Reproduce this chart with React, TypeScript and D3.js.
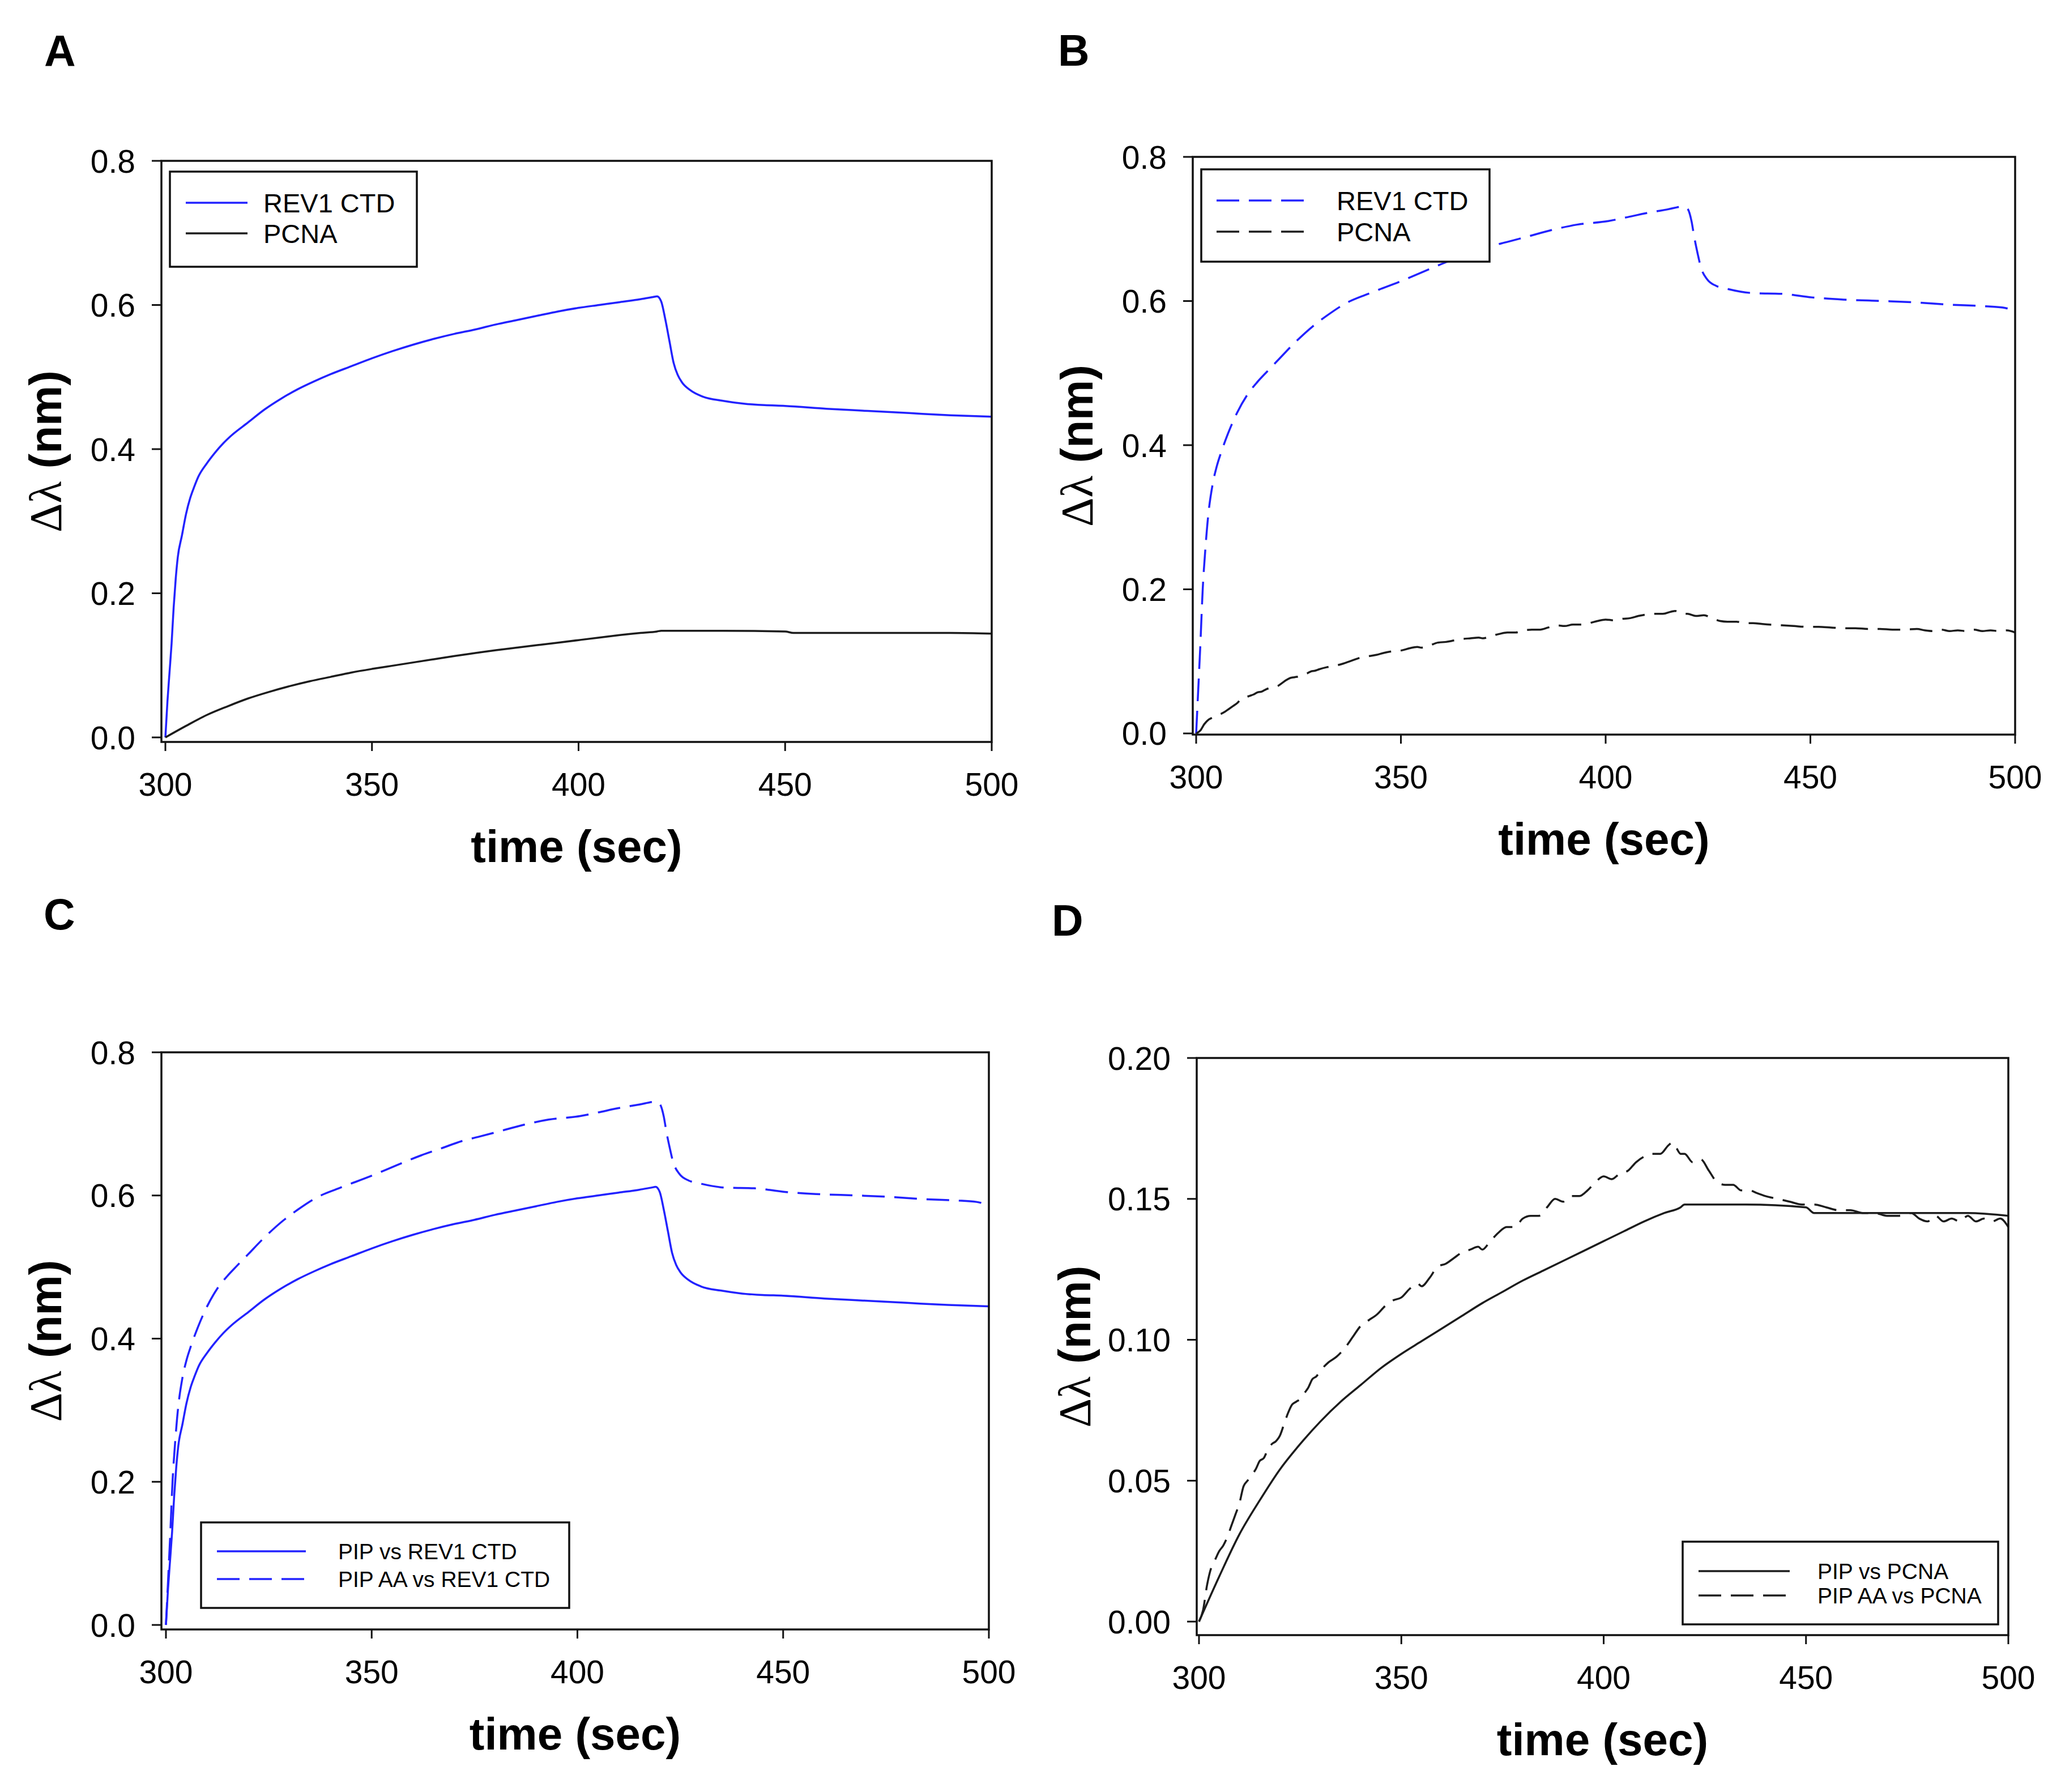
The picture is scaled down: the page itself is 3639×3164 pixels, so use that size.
import React from 'react';
import * as d3 from 'd3';

// ---------- tick labels ----------
const xTicks = [300, 350, 400, 450, 500];
const yTicksWide = [0, 0.2, 0.4, 0.6, 0.8];
const yTicksNarrow = [0, 0.05, 0.1, 0.15, 0.2];

// ---------- series: PIP vs REV1 CTD (A blue solid, C solid) ----------
const tPipRev1 = [300, 300.5, 301, 301.5, 302, 302.5, 303, 304, 305, 306, 307, 308, 310, 312, 314, 316, 320, 324, 328, 332, 336, 340, 345, 350, 355, 360, 365, 370, 375, 380, 385, 390, 395, 400, 405, 410, 415, 418, 419, 420, 421, 422, 423, 424, 425, 427, 430, 435, 440, 445, 450, 460, 470, 480, 490, 500];
const vPipRev1 = [0, 0.05, 0.09, 0.13, 0.18, 0.22, 0.25, 0.28, 0.31, 0.332, 0.348, 0.362, 0.38, 0.395, 0.408, 0.419, 0.437, 0.455, 0.47, 0.483, 0.494, 0.504, 0.515, 0.526, 0.536, 0.545, 0.553, 0.56, 0.566, 0.573, 0.579, 0.585, 0.591, 0.596, 0.6, 0.604, 0.608, 0.611, 0.612, 0.605, 0.58, 0.55, 0.52, 0.503, 0.493, 0.482, 0.473, 0.467, 0.463, 0.461, 0.46, 0.456, 0.453, 0.45, 0.447, 0.445];

// ---------- series: PIP AA vs REV1 CTD (B blue dashed, C dashed) ----------
const tPipAARev1 = [300, 300.5, 301, 301.6, 302.3, 302.9, 304, 305, 306.1, 307.7, 310, 312.5, 315, 317.3, 320, 323.7, 328.5, 332, 336.6, 342, 350.2, 356, 362, 367, 371.9, 376, 380, 387.9, 393, 400.7, 405, 410, 415, 419, 420, 421, 421.6, 422.5, 423.2, 424.8, 427, 429.6, 436, 443, 450.4, 458, 468, 476, 484, 492, 497, 500];
const vPipAARev1 = [0, 0.06, 0.12, 0.2, 0.26, 0.3, 0.345, 0.37, 0.39, 0.415, 0.445, 0.47, 0.488, 0.502, 0.518, 0.54, 0.565, 0.58, 0.597, 0.61, 0.628, 0.642, 0.656, 0.666, 0.676, 0.682, 0.688, 0.7, 0.706, 0.711, 0.716, 0.722, 0.727, 0.731, 0.728, 0.71, 0.69, 0.665, 0.648, 0.63, 0.621, 0.617, 0.611, 0.61, 0.605, 0.602, 0.6, 0.598, 0.595, 0.593, 0.591, 0.586];

// ---------- series: PIP vs PCNA (A black solid, D solid) ----------
const tPipPcna = [300, 305, 310, 315, 320, 325, 330, 335, 340, 345, 350, 355, 360, 365, 370, 375, 380, 385, 390, 395, 400, 405, 410, 415, 419, 420, 435, 450, 452, 475, 490, 500];
const vPipPcna = [0, 0.016, 0.031, 0.043, 0.054, 0.063, 0.071, 0.078, 0.084, 0.09, 0.095, 0.0995, 0.104, 0.1085, 0.113, 0.117, 0.121, 0.1245, 0.128, 0.1315, 0.135, 0.1385, 0.142, 0.145, 0.147, 0.148, 0.148, 0.147, 0.145, 0.145, 0.145, 0.144];

// ---------- series: PIP AA vs PCNA (B black dashed, D dashed) ----------
const tPipAAPcna = [300, 301, 302, 303, 304, 305, 306, 307, 308, 309, 310, 311, 312, 313, 314, 315, 316, 317, 318, 319, 320, 321, 322, 323, 324, 325, 326, 327, 328, 329, 330, 332, 334, 336, 338, 340, 342, 344, 346, 348, 350, 352, 354, 355, 357, 359, 361, 363, 365, 367, 369, 370, 372, 374, 376, 378, 380, 382, 384, 386, 388, 390, 392, 394, 396, 398, 400, 402, 404, 406, 408, 410, 412, 414, 416, 417, 418, 419, 420, 422, 424, 426, 428, 430, 432, 434, 436, 438, 440, 443, 446, 449, 452, 455, 458, 461, 464, 467, 470, 473, 476, 478, 480, 482, 484, 486, 488, 490, 492, 494, 496, 498, 500];
const vPipAAPcna = [0, 0.004, 0.013, 0.019, 0.022, 0.025, 0.027, 0.03, 0.034, 0.038, 0.042, 0.048, 0.05, 0.052, 0.054, 0.057, 0.058, 0.061, 0.063, 0.064, 0.066, 0.07, 0.074, 0.077, 0.078, 0.079, 0.081, 0.083, 0.086, 0.087, 0.089, 0.092, 0.094, 0.097, 0.101, 0.105, 0.107, 0.109, 0.112, 0.114, 0.115, 0.118, 0.12, 0.119, 0.122, 0.126, 0.127, 0.129, 0.131, 0.132, 0.133, 0.132, 0.135, 0.138, 0.14, 0.14, 0.143, 0.144, 0.144, 0.147, 0.15, 0.149, 0.151, 0.151, 0.153, 0.156, 0.158, 0.157, 0.159, 0.16, 0.163, 0.165, 0.166, 0.166, 0.169, 0.17, 0.168, 0.166, 0.166, 0.163, 0.164, 0.16, 0.156, 0.155, 0.155, 0.153, 0.153, 0.152, 0.151, 0.15, 0.149, 0.148, 0.148, 0.147, 0.146, 0.146, 0.145, 0.145, 0.144, 0.144, 0.145, 0.143, 0.142, 0.144, 0.142, 0.143, 0.142, 0.144, 0.142, 0.143, 0.142, 0.143, 0.14];

// ---------- legend labels ----------
const legendAB = ['REV1 CTD', 'PCNA'];
const legendC = ['PIP vs REV1 CTD', 'PIP AA vs REV1 CTD'];
const legendD = ['PIP vs PCNA', 'PIP AA vs PCNA'];

const BLUE = '#2222ff';
const BLACK = '#1c1c1c';
const DASH = '40 17';
const SANS = '"Liberation Sans", Arial, sans-serif';

type S = { t: number[]; v: number[]; color: string; dash?: string };

interface PanelProps {
  letter: string;
  letterPos: [number, number];
  box: [number, number, number, number];
  xDomain: [number, number];
  yDomain: [number, number];
  yTicks: number[];
  yFmt: string;
  yTitleOffset: number;
  series: S[];
  legendBox: [number, number, number, number];
  legendLineX: [number, number];
  legendRows: [number, number];
  legendTextX: number;
  legendFont: number;
  legendLabels: string[];
}

function Panel(p: PanelProps) {
  const [x0, y0, x1, y1] = p.box;
  const xs = d3.scaleLinear().domain(p.xDomain).range([x0, x1]);
  const ys = d3.scaleLinear().domain(p.yDomain).range([y1, y0]);
  const fmt = d3.format(p.yFmt);
  const line = d3
    .line<[number, number]>()
    .x((d) => xs(d[0]))
    .y((d) => ys(d[1]))
    .curve(d3.curveMonotoneX);
  const [lx0, ly0, lx1, ly1] = p.legendBox;
  const cy = (y0 + y1) / 2;
  const tx = x0 - p.yTitleOffset;
  return (
    <g>
      <text x={p.letterPos[0]} y={p.letterPos[1]} fontFamily={SANS} fontWeight="bold" fontSize={77} fill="#000">
        {p.letter}
      </text>
      {p.series.map((s, i) => (
        <path
          key={i}
          d={line(s.t.map((t, k) => [t, s.v[k]] as [number, number])) || ''}
          fill="none"
          stroke={s.color}
          strokeWidth={3.5}
          strokeDasharray={s.dash}
          strokeLinejoin="round"
        />
      ))}
      <rect x={x0} y={y0} width={x1 - x0} height={y1 - y0} fill="none" stroke="#111" strokeWidth={3.5} />
      {p.yTicks.map((t) => (
        <g key={'y' + t}>
          <line x1={x0 - 17} x2={x0} y1={ys(t)} y2={ys(t)} stroke="#111" strokeWidth={3} />
          <text x={x0 - 46} y={ys(t)} dy="0.36em" textAnchor="end" fontFamily={SANS} fontSize={57} fill="#000">
            {fmt(t)}
          </text>
        </g>
      ))}
      {xTicks.map((t) => (
        <g key={'x' + t}>
          <line x1={xs(t)} x2={xs(t)} y1={y1} y2={y1 + 16} stroke="#111" strokeWidth={3} />
          <text x={xs(t)} y={y1 + 95} textAnchor="middle" fontFamily={SANS} fontSize={57} fill="#000">
            {t}
          </text>
        </g>
      ))}
      <text x={(x0 + x1) / 2} y={y1 + 212} textAnchor="middle" fontFamily={SANS} fontWeight="bold" fontSize={80} fill="#000">
        time (sec)
      </text>
      <text transform={`translate(${tx},${cy}) rotate(-90)`} textAnchor="middle" fontSize={80} fill="#000">
        <tspan fontFamily='"Liberation Serif", "Times New Roman", serif'>{'\u0394\u03bb'}</tspan>
        <tspan fontFamily={SANS} fontWeight="bold">{' (nm)'}</tspan>
      </text>
      <rect x={lx0} y={ly0} width={lx1 - lx0} height={ly1 - ly0} fill="#fff" stroke="#111" strokeWidth={3.5} />
      {p.legendLabels.map((lab, i) => (
        <g key={lab}>
          <line
            x1={p.legendLineX[0]}
            x2={p.legendLineX[1]}
            y1={p.legendRows[i]}
            y2={p.legendRows[i]}
            stroke={p.series[i].color}
            strokeWidth={3.5}
            strokeDasharray={p.series[i].dash}
          />
          <text x={p.legendTextX} y={p.legendRows[i]} dy="0.36em" fontFamily={SANS} fontSize={p.legendFont} fill="#000">
            {lab}
          </text>
        </g>
      ))}
    </g>
  );
}

export default function App() {
  return (
    <svg
      width={3639}
      height={3164}
      viewBox="0 0 3639 3164"
      style={{ position: 'absolute', left: 0, top: 0, background: '#fff' }}
    >
      <rect x={0} y={0} width={3639} height={3164} fill="#fff" />
      <Panel
        letter="A"
        letterPos={[78, 117]}
        box={[285, 284, 1751, 1310]}
        xDomain={[299.04, 500]}
        yDomain={[-0.0063, 0.8]}
        yTicks={yTicksWide}
        yFmt=".1f"
        yTitleOffset={177}
        series={[
          { t: tPipRev1, v: vPipRev1, color: BLUE },
          { t: tPipPcna, v: vPipPcna, color: BLACK },
        ]}
        legendBox={[300, 303, 736, 471]}
        legendLineX={[328, 437]}
        legendRows={[358, 412]}
        legendTextX={465}
        legendFont={47}
        legendLabels={legendAB}
      />
      <Panel
        letter="B"
        letterPos={[1868, 116]}
        box={[2106, 277, 3558, 1297]}
        xDomain={[299.17, 500]}
        yDomain={[-0.0016, 0.8]}
        yTicks={yTicksWide}
        yFmt=".1f"
        yTitleOffset={177}
        series={[
          { t: tPipAARev1, v: vPipAARev1, color: BLUE, dash: DASH },
          { t: tPipAAPcna, v: vPipAAPcna, color: BLACK, dash: DASH },
        ]}
        legendBox={[2121, 299, 2630, 462]}
        legendLineX={[2148, 2305]}
        legendRows={[354, 409]}
        legendTextX={2360}
        legendFont={47}
        legendLabels={legendAB}
      />
      <Panel
        letter="C"
        letterPos={[77, 1641]}
        box={[285, 1858, 1746, 2877]}
        xDomain={[298.9, 500]}
        yDomain={[-0.0063, 0.8]}
        yTicks={yTicksWide}
        yFmt=".1f"
        yTitleOffset={177}
        series={[
          { t: tPipRev1, v: vPipRev1, color: BLUE },
          { t: tPipAARev1, v: vPipAARev1, color: BLUE, dash: DASH },
        ]}
        legendBox={[355, 2688, 1005, 2839]}
        legendLineX={[383, 540]}
        legendRows={[2739, 2788]}
        legendTextX={597}
        legendFont={39}
        legendLabels={legendC}
      />
      <Panel
        letter="D"
        letterPos={[1857, 1652]}
        box={[2113, 1868, 3546, 2887]}
        xDomain={[299.44, 500]}
        yDomain={[-0.0048, 0.2]}
        yTicks={yTicksNarrow}
        yFmt=".2f"
        yTitleOffset={188}
        series={[
          { t: tPipPcna, v: vPipPcna, color: BLACK },
          { t: tPipAAPcna, v: vPipAAPcna, color: BLACK, dash: DASH },
        ]}
        legendBox={[2971, 2722, 3528, 2868]}
        legendLineX={[2999, 3160]}
        legendRows={[2774, 2817]}
        legendTextX={3209}
        legendFont={39}
        legendLabels={legendD}
      />
    </svg>
  );
}
